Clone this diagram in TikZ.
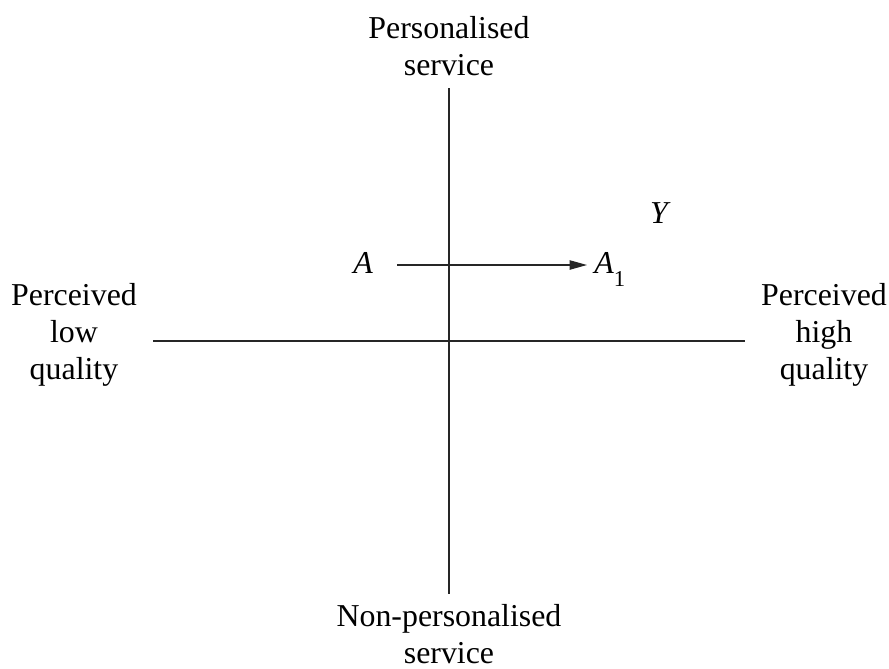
\documentclass[tikz,border=0pt]{standalone}
\usepackage{fontspec}
\setmainfont{Liberation Serif}
\usetikzlibrary{arrows.meta}
\begin{document}
\begin{tikzpicture}[x=0.75pt,y=-0.75pt,
  lbl/.style={inner sep=0pt, align=center, font=\fontsize{23.9}{27.75}\selectfont},
  axis/.style={line width=0.9pt, black!85},
  mv/.style={line width=0.9pt, black!85, -{Triangle[length=13pt,width=7pt]}}]
\useasboundingbox (0,0) rectangle (889,668);
\node[lbl, anchor=base] (top) at (449,75) {Personalised\\service};
\node[lbl, anchor=base] (bot) at (449,663) {Non-personalised\\service};
\node[lbl, anchor=base] (left) at (74,379) {Perceived\\low\\quality};
\node[lbl, anchor=base] (right) at (824,379) {Perceived\\high\\quality};
\node[lbl, anchor=base, font=\fontsize{23.9}{27.75}\selectfont\itshape] (A) at (363,273) {A};
\node[lbl, anchor=base west] (A1) at (594,273) {\textit{A}\raisebox{-0.42em}{\fontsize{17}{17}\selectfont 1}};
\node[lbl, anchor=base, font=\fontsize{23.9}{27.75}\selectfont\itshape] (Y) at (659,223) {Y};
\coordinate (vt) at (449,88);
\coordinate (vb) at (449,594);
\coordinate (hl) at (153,341);
\coordinate (hr) at (745,341);
\coordinate (as) at (397,265);
\coordinate (ae) at (587,265);
\draw[axis] (vt) -- (vb);
\draw[axis] (hl) -- (hr);
\draw[mv] (as) -- (ae);
\end{tikzpicture}
\end{document}
